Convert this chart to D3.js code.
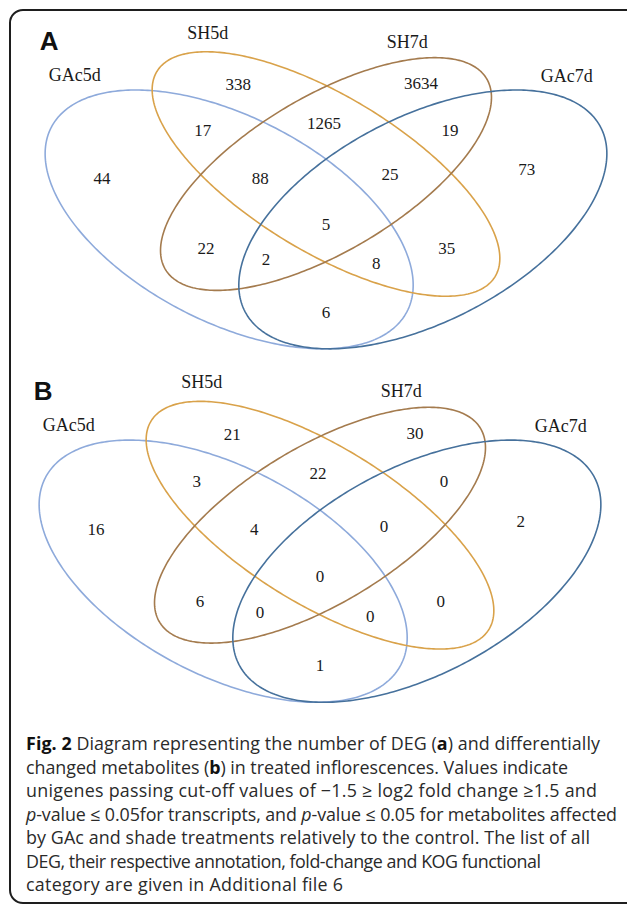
<!DOCTYPE html>
<html><head><meta charset="utf-8">
<script src="https://cdn.jsdelivr.net/npm/d3@7"></script>
<style>body{margin:0;background:#fff}</style>
</head><body>
<svg id="c" width="627" height="904" xmlns="http://www.w3.org/2000/svg"></svg>
<script>
// ---------- data ----------
const categories = ["GAc5d", "SH5d", "SH7d", "GAc7d"];
const categoryColors = ["#8eaadb", "#d9a24a", "#a47b4e", "#46719c"];
// region keys: which categories (1..4) the region belongs to
const regions = ["1","2","3","4","12","13","14","23","24","34","123","124","134","234","1234"];
const countsA = [44, 338, 3634, 73, 17, 22, 6, 1265, 35, 19, 88, 8, 2, 25, 5];
const countsB = [16, 21, 30, 2, 3, 6, 1, 22, 0, 0, 4, 0, 0, 0, 0];
const panelLetters = ["A", "B"];
const captionLines = [
  [["Fig. 2","b"],[" Diagram representing the number of DEG (",""],["a","b"],[") and differentially",""]],
  [["changed metabolites (",""],["b","b"],[") in treated inflorescences. Values indicate",""]],
  [["unigenes passing cut-off values of \u22121.5 \u2265 log2 fold change \u22651.5 and",""]],
  [["p","i"],["-value \u2264 0.05for transcripts, and ",""],["p","i"],["-value \u2264 0.05 for metabolites affected",""]],
  [["by GAc and shade treatments relatively to the control. The list of all",""]],
  [["DEG, their respective annotation, fold-change and KOG functional",""]],
  [["category are given in Additional file 6",""]]
];

// ---------- layout (unit Venn space, y up) ----------
const ellipses = [ // cx, cy, a, b, rotation(deg)
  [0.35, 0.47, 0.35, 0.20, 135],
  [0.50, 0.57, 0.35, 0.15, 135],
  [0.50, 0.57, 0.33, 0.15, 45],
  [0.65, 0.47, 0.35, 0.20, 45]
];
const regionAnchors = [
  [0.153,0.561],[0.364,0.768],[0.647,0.770],[0.811,0.579],
  [0.309,0.665],[0.314,0.405],[0.500,0.264],[0.497,0.682],
  [0.687,0.405],[0.692,0.665],[0.398,0.561],[0.578,0.372],
  [0.407,0.381],[0.599,0.568],[0.500,0.458]
];
const catAnchors = [[0.111,0.788],[0.317,0.881],[0.626,0.861],[0.873,0.786]];
const letterAnchor = [0.071, 0.862];
const panels = [
  {letter: panelLetters[0], counts: countsA, xr: [3.2, 648.8], yr: [432.8, -21.2]},
  {letter: panelLetters[1], counts: countsB, xr: [-2.8, 642.8], yr: [787.4, 327.4]}
];
const captionWidths = [574, 542, 571, 591, 564, 515, 317];

const svg = d3.select("#c");
svg.append("rect").attr("x", 10).attr("y", 10).attr("width", 700).attr("height", 893)
  .attr("rx", 13).attr("fill", "#fff").attr("stroke", "#1e1e1e").attr("stroke-width", 2);

const serif = "'Liberation Serif','Times New Roman',serif";

panels.forEach(p => {
  const x = d3.scaleLinear().domain([0,1]).range(p.xr);
  const y = d3.scaleLinear().domain([0,1]).range(p.yr);
  const g = svg.append("g");
  const line = d3.line().x(d => x(d[0])).y(d => y(d[1])).curve(d3.curveLinearClosed);
  ellipses.forEach((e, i) => {
    const [cx, cy, a, b, rot] = e;
    const r = rot * Math.PI / 180;
    const pts = d3.range(0, 360, 1).map(t => {
      const tt = t * Math.PI / 180;
      const ex = a * Math.cos(tt), ey = b * Math.sin(tt);
      return [cx + ex * Math.cos(r) - ey * Math.sin(r), cy + ex * Math.sin(r) + ey * Math.cos(r)];
    });
    g.append("path").attr("d", line(pts)).attr("fill", "none")
      .attr("stroke", categoryColors[i]).attr("stroke-width", 1.6);
  });
  regions.forEach((k, i) => {
    g.append("text").attr("x", x(regionAnchors[i][0])).attr("y", y(regionAnchors[i][1]))
      .attr("text-anchor", "middle").attr("dominant-baseline", "central")
      .attr("font-family", serif).attr("font-size", 17).attr("fill", "#1a1a1a")
      .text(p.counts[i]);
  });
  categories.forEach((c, i) => {
    g.append("text").attr("x", x(catAnchors[i][0])).attr("y", y(catAnchors[i][1]))
      .attr("text-anchor", "middle").attr("dominant-baseline", "central")
      .attr("font-family", serif).attr("font-size", 18).attr("fill", "#1a1a1a")
      .text(c);
  });
  g.append("text").attr("x", x(letterAnchor[0])).attr("y", y(letterAnchor[1]))
    .attr("text-anchor", "middle").attr("dominant-baseline", "central")
    .attr("font-family", "'Liberation Sans',Arial,sans-serif").attr("font-weight", "bold")
    .attr("font-size", 26).attr("fill", "#111").text(p.letter);
});

// caption
const cap = svg.append("g");
const capFont = "'Open Sans','Noto Sans',sans-serif";
const capTop = 743, capStep = 23.5;
const texts = captionLines.map((ln, i) => {
  const t = cap.append("text").attr("x", 26).attr("y", capTop + i * capStep)
    .attr("dominant-baseline", "central").attr("font-family", capFont)
    .attr("font-size", 16).attr("fill", "#2a2a2a");
  ln.forEach(([s, st]) => {
    const ts = t.append("tspan").text(s);
    if (st === "b") ts.attr("font-weight", "bold").attr("fill", "#111");
    if (st === "i") ts.attr("font-style", "italic");
  });
  return t;
});
// choose one font size that best fits all line widths, then fine-tune spacing per line
const measured = texts.map(t => t.node().getComputedTextLength());
const ratio = d3.sum(captionWidths) / d3.sum(measured);
const fs = 16 * ratio;
texts.forEach((t, i) => {
  t.attr("font-size", fs);
  t.attr("textLength", captionWidths[i]).attr("lengthAdjust", "spacing");
});
</script>
</body></html>
